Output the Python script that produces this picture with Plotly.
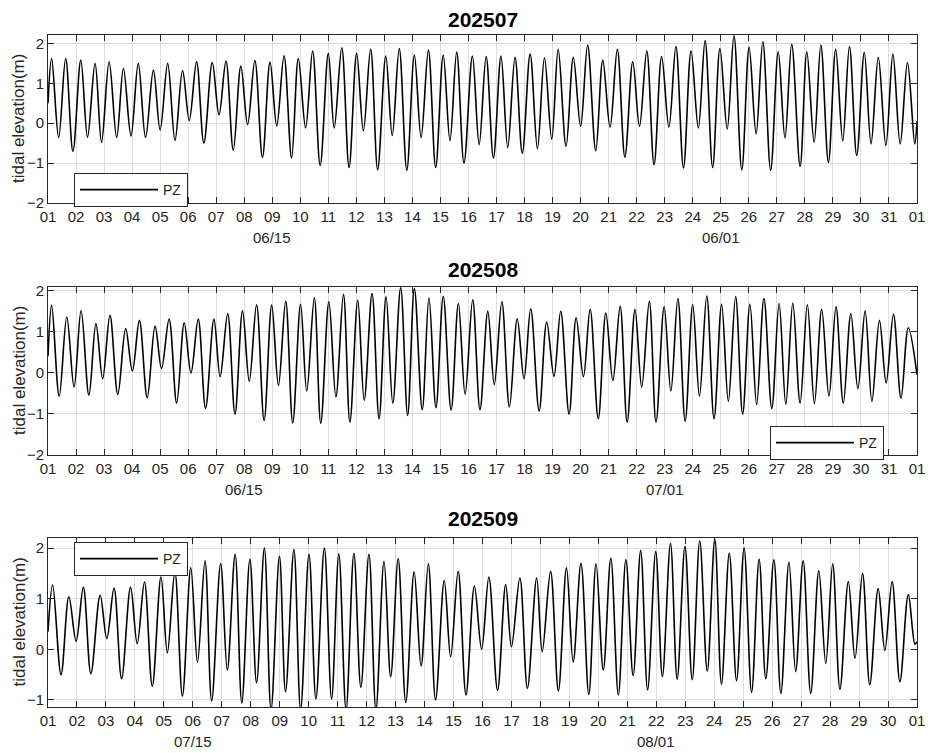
import plotly.graph_objects as go

# ---------------- data ----------------
# day offset from start of month (0 = day 01 00:00); values in m
p1_high_day = [0.13, 0.63, 1.17, 1.68, 2.18, 2.69, 3.22, 3.76, 4.27, 4.80, 5.30, 5.86, 6.35, 6.88, 7.38, 7.92,
               8.42, 8.93, 9.44, 10.00, 10.48, 11.01, 11.51, 12.05, 12.53, 13.07, 13.57, 14.10, 14.58, 15.14,
               15.63, 16.16, 16.66, 17.20, 17.71, 18.20, 18.74, 19.25, 19.79, 20.31, 20.86, 21.36, 21.89, 22.40,
               22.94, 23.44, 23.97, 24.47, 25.01, 25.50, 26.05, 26.53, 27.07, 27.57, 28.10, 28.59, 29.12, 29.62,
               30.14, 30.66]
p1_high_val = [1.62, 1.62, 1.58, 1.50, 1.54, 1.37, 1.50, 1.33, 1.50, 1.32, 1.54, 1.52, 1.56, 1.43, 1.57, 1.53,
               1.69, 1.62, 1.81, 1.75, 1.89, 1.75, 1.86, 1.68, 1.87, 1.71, 1.83, 1.71, 1.78, 1.68,
               1.67, 1.68, 1.65, 1.73, 1.64, 1.85, 1.65, 1.96, 1.58, 1.85, 1.54, 1.81, 1.67, 1.92,
               1.81, 2.07, 1.87, 2.19, 1.90, 2.04, 1.79, 1.98, 1.79, 1.96, 1.85, 1.92, 1.77, 1.65,
               1.73, 1.52]
p1_low_day = [0.38, 0.89, 1.41, 1.91, 2.45, 2.96, 3.48, 4.00, 4.53, 5.04, 5.56, 6.10, 6.61, 7.12, 7.65, 8.16,
              8.69, 9.19, 9.71, 10.21, 10.74, 11.25, 11.76, 12.28, 12.80, 13.31, 13.83, 14.34, 14.84, 15.38,
              15.89, 16.40, 16.92, 17.46, 17.97, 18.48, 19.00, 19.54, 20.05, 20.58, 21.10, 21.62, 22.15, 22.67,
              23.20, 23.71, 24.23, 24.75, 25.26, 25.78, 26.29, 26.83, 27.33, 27.84, 28.35, 28.85, 29.36, 29.89,
              30.40, 30.92]
p1_low_val = [-0.36, -0.71, -0.35, -0.48, -0.36, -0.32, -0.36, -0.17, -0.43, 0.07, -0.50, 0.21, -0.68, -0.04,
              -0.86, -0.07, -0.87, -0.12, -1.06, -0.12, -1.11, -0.19, -1.17, -0.31, -1.18, -0.36, -1.11, -0.44,
              -1.00, -0.54, -0.87, -0.61, -0.75, -0.64, -0.40, -0.58, -0.08, -0.69, -0.10, -0.85, -0.08, -1.04,
              -0.10, -1.12, -0.12, -1.11, -0.15, -1.17, -0.27, -1.18, -0.37, -1.08, -0.48, -0.98, -0.44, -0.81,
              -0.52, -0.56, -0.52, -0.52]
p1_edge_day = [0.0, 31.0]
p1_edge_val = [0.50, 0.05]

p2_high_day = [0.13, 0.67, 1.18, 1.71, 2.21, 2.77, 3.26, 3.82, 4.32, 4.86, 5.36, 5.92, 6.41, 6.94, 7.44, 7.98,
               8.48, 9.01, 9.50, 10.02, 10.54, 11.05, 11.56, 12.06, 12.58, 13.07, 13.59, 14.10, 14.64, 15.15,
               15.69, 16.19, 16.74, 17.22, 17.79, 18.29, 18.84, 19.34, 19.90, 20.41, 20.94, 21.45, 21.98, 22.47,
               23.00, 23.50, 24.03, 24.53, 25.04, 25.54, 26.08, 26.57, 27.09, 27.60, 28.11, 28.64, 29.15, 29.66,
               30.16, 30.69]
p2_high_val = [1.64, 1.35, 1.51, 1.19, 1.39, 1.07, 1.27, 1.13, 1.30, 1.21, 1.30, 1.30, 1.43, 1.50, 1.65, 1.64,
               1.73, 1.66, 1.82, 1.72, 1.90, 1.76, 1.92, 1.84, 2.06, 2.04, 1.82, 1.85, 1.68, 1.77,
               1.49, 1.72, 1.31, 1.55, 1.23, 1.49, 1.33, 1.54, 1.45, 1.61, 1.53, 1.73, 1.60, 1.80,
               1.65, 1.86, 1.66, 1.85, 1.66, 1.80, 1.68, 1.69, 1.65, 1.54, 1.60, 1.43, 1.50, 1.27,
               1.42, 1.09]
p2_low_day = [0.40, 0.93, 1.46, 1.95, 2.49, 3.01, 3.54, 4.05, 4.59, 5.10, 5.62, 6.14, 6.67, 7.18, 7.71, 8.22,
              8.73, 9.23, 9.73, 10.27, 10.77, 11.28, 11.81, 12.30, 12.83, 13.35, 13.84, 14.38, 14.88, 15.41,
              15.92, 16.46, 16.98, 17.52, 18.05, 18.59, 19.10, 19.63, 20.15, 20.66, 21.18, 21.69, 22.22, 22.73,
              23.24, 23.76, 24.27, 24.78, 25.28, 25.82, 26.32, 26.83, 27.34, 27.86, 28.37, 28.89, 29.39, 29.90,
              30.43]
p2_low_val = [-0.57, -0.35, -0.55, -0.15, -0.53, 0.04, -0.61, 0.10, -0.74, -0.01, -0.87, -0.10, -1.01, -0.21,
              -1.16, -0.31, -1.22, -0.45, -1.23, -0.59, -1.20, -0.67, -1.12, -0.74, -1.04, -0.90, -0.85, -0.91,
              -0.53, -0.90, -0.29, -0.83, -0.15, -0.93, -0.09, -1.01, -0.10, -1.12, -0.19, -1.20, -0.35, -1.20,
              -0.45, -1.18, -0.57, -1.12, -0.70, -1.01, -0.78, -0.87, -0.77, -0.74, -0.75, -0.57, -0.74, -0.39,
              -0.70, -0.25, -0.62]
p2_edge_day = [0.0, 31.0]
p2_edge_val = [0.40, -0.05]

p3_high_day = [0.16, 0.72, 1.22, 1.80, 2.28, 2.85, 3.33, 3.90, 4.38, 4.93, 5.42, 5.96, 6.46, 6.97, 7.47, 7.99,
               8.49, 9.01, 9.54, 10.04, 10.56, 11.08, 11.60, 12.09, 12.64, 13.13, 13.68, 14.16, 14.72, 15.22,
               15.80, 16.29, 16.87, 17.35, 17.90, 18.40, 18.92, 19.43, 19.95, 20.46, 20.98, 21.49, 21.99, 22.50,
               23.02, 23.52, 24.03, 24.55, 25.06, 25.58, 26.07, 26.61, 27.09, 27.63, 28.12, 28.66, 29.14, 29.70]
p3_high_val = [1.27, 1.04, 1.23, 1.07, 1.21, 1.23, 1.33, 1.43, 1.53, 1.61, 1.75, 1.69, 1.88, 1.78, 2.00, 1.84,
               1.97, 1.88, 2.00, 1.89, 1.90, 1.88, 1.74, 1.79, 1.53, 1.69, 1.36, 1.54, 1.25, 1.43,
               1.28, 1.41, 1.41, 1.54, 1.61, 1.70, 1.69, 1.80, 1.77, 1.95, 1.93, 2.09, 2.03, 2.14,
               2.18, 1.90, 2.00, 1.78, 1.77, 1.72, 1.75, 1.55, 1.69, 1.34, 1.50, 1.20, 1.34, 1.08]
p3_low_day = [0.45, 0.97, 1.48, 2.03, 2.54, 3.08, 3.60, 4.12, 4.64, 5.16, 5.65, 6.19, 6.69, 7.20, 7.70, 8.20,
              8.72, 9.25, 9.79, 10.29, 10.80, 11.32, 11.83, 12.35, 12.88, 13.38, 13.90, 14.43, 14.97, 15.52,
              16.00, 16.55, 17.06, 17.62, 18.13, 18.67, 19.17, 19.69, 20.20, 20.70, 21.21, 21.72, 22.24, 22.76,
              23.25, 23.77, 24.29, 24.78, 25.30, 25.81, 26.33, 26.85, 27.34, 27.86, 28.37, 28.89, 29.41, 29.93]
p3_low_val = [-0.50, 0.16, -0.48, 0.21, -0.58, 0.11, -0.73, -0.07, -0.92, -0.26, -1.02, -0.41, -1.06, -0.66,
              -1.20, -0.84, -1.20, -0.98, -0.98, -1.20, -0.75, -1.20, -0.54, -1.05, -0.33, -1.00, -0.15, -0.90,
              0.00, -0.81, 0.05, -0.77, -0.05, -0.82, -0.25, -0.89, -0.41, -0.90, -0.52, -0.80, -0.54, -0.59,
              -0.60, -0.43, -0.69, -0.62, -0.85, -0.58, -0.87, -0.44, -0.87, -0.28, -0.79, -0.18, -0.70, -0.02,
              -0.64, 0.10]
p3_edge_day = [0.0, 30.0]
p3_edge_val = [0.35, 0.15]

titles = ["202507", "202508", "202509"]
p1_xticks = ["%02d" % d for d in range(1, 32)] + ["01"]
p2_xticks = ["%02d" % d for d in range(1, 32)] + ["01"]
p3_xticks = ["%02d" % d for d in range(1, 31)] + ["01"]
p1_sub = [(8, "06/15"), (24, "06/01")]
p2_sub = [(7, "06/15"), (22, "07/01")]
p3_sub = [(5, "07/15"), (21, "08/01")]
series_name = "PZ"

# ---------------- figure ----------------
W, H = 928, 753
FONT = "Liberation Sans, Arial, Helvetica, sans-serif"
INK = "#262626"
GRID = "#dedede"


def merge(edge_d, edge_v, hd, hv, ld, lv):
    pts = list(zip(edge_d, edge_v)) + list(zip(hd, hv)) + list(zip(ld, lv))
    pts.sort()
    return [p[0] for p in pts], [p[1] for p in pts]


def py(px):
    return 1 - px / H


panels = [
    dict(d=merge(p1_edge_day, p1_edge_val, p1_high_day, p1_high_val, p1_low_day, p1_low_val),
         top=35, bot=203, yr=[-2, 2.21], yt=[-2, -1, 0, 1, 2], xt=p1_xticks, ndays=31, sub=p1_sub,
         title_y=20, sub_y=238, leg=dict(x=74, y=173)),
    dict(d=merge(p2_edge_day, p2_edge_val, p2_high_day, p2_high_val, p2_low_day, p2_low_val),
         top=287, bot=455, yr=[-2, 2.08], yt=[-2, -1, 0, 1, 2], xt=p2_xticks, ndays=31, sub=p2_sub,
         title_y=269, sub_y=489, leg=dict(x=770, y=426)),
    dict(d=merge(p3_edge_day, p3_edge_val, p3_high_day, p3_high_val, p3_low_day, p3_low_val),
         top=538, bot=707, yr=[-1.14, 2.2], yt=[-1, 0, 1, 2], xt=p3_xticks, ndays=30, sub=p3_sub,
         title_y=518, sub_y=741, leg=dict(x=74, y=542)),
]

fig = go.Figure()
layout = dict(width=W, height=H, margin=dict(l=0, r=0, t=0, b=0),
              paper_bgcolor="white", plot_bgcolor="white", showlegend=True,
              font=dict(family=FONT, size=15, color=INK))
annotations = []
xl, xr = 48, 917

for i, p in enumerate(panels):
    k = "" if i == 0 else str(i + 1)
    legname = "legend" + k
    xd, yd = p["d"]
    fig.add_trace(go.Scatter(x=xd, y=yd, mode="lines", name=series_name,
                             line=dict(color="black", width=1.6, shape="spline", smoothing=1),
                             xaxis="x" + k, yaxis="y" + k, legend=legname, hoverinfo="skip"))
    layout["xaxis" + k] = dict(domain=[xl / W, xr / W], anchor="y" + k, range=[0, p["ndays"]],
                               tickmode="array", tickvals=list(range(p["ndays"] + 1)), ticktext=p["xt"],
                               ticks="inside", ticklen=6, tickcolor=INK, tickwidth=1,
                               showline=True, linecolor=INK, linewidth=1, mirror="ticks",
                               showgrid=True, gridcolor=GRID, gridwidth=1, zeroline=False,
                               ticklabeloverflow="allow",
                               tickfont=dict(size=15, color=INK, family=FONT), automargin=False)
    layout["yaxis" + k] = dict(domain=[py(p["bot"]), py(p["top"])], anchor="x" + k, range=p["yr"],
                               tickmode="array", tickvals=p["yt"],
                               ticks="inside", ticklen=6, tickcolor=INK, tickwidth=1,
                               showline=True, linecolor=INK, linewidth=1, mirror="ticks",
                               showgrid=True, gridcolor=GRID, gridwidth=1, zeroline=False,
                               tickfont=dict(size=15, color=INK, family=FONT), automargin=False)
    layout[legname] = dict(x=p["leg"]["x"] / W, y=py(p["leg"]["y"]), xanchor="left", yanchor="top",
                           bgcolor="white", bordercolor=INK, borderwidth=1,
                           font=dict(size=14, color=INK, family=FONT), itemwidth=78)
    annotations.append(dict(text="<b>%s</b>" % titles[i], x=(xl + xr) / 2 / W, y=py(p["title_y"]),
                            xref="paper", yref="paper", showarrow=False, xanchor="center", yanchor="middle",
                            font=dict(size=21, color="black", family=FONT)))
    annotations.append(dict(text="tidal elevation(m)", x=19 / W, y=py((p["top"] + p["bot"]) / 2),
                            xref="paper", yref="paper", showarrow=False, textangle=-90,
                            xanchor="center", yanchor="middle", font=dict(size=17, color=INK, family=FONT)))
    for xv, txt in p["sub"]:
        annotations.append(dict(text=txt, x=xv, y=py(p["sub_y"]), xref="x" + k, yref="paper",
                                showarrow=False, xanchor="center", yanchor="middle",
                                font=dict(size=15, color=INK, family=FONT)))

layout["annotations"] = annotations
fig.update_layout(**layout)
fig.write_html("out.html", config={"displayModeBar": False},
               post_script="document.body.style.margin='0px';document.body.style.overflow='hidden';")
